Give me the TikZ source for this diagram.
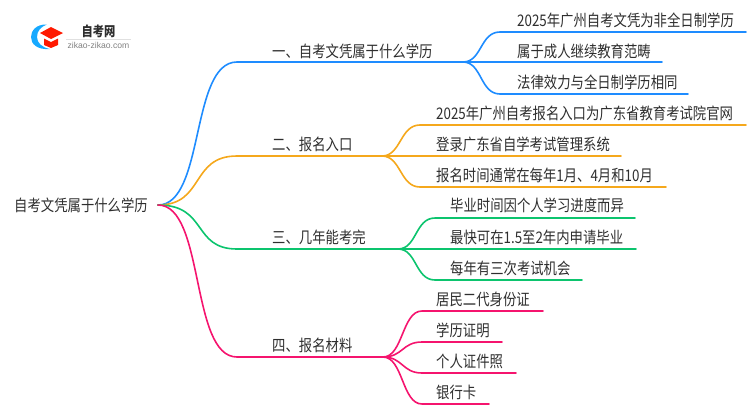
\documentclass[tikz,border=0pt]{standalone}
\usepackage{fontspec}
\setmainfont[FakeStretch=0.835]{Noto Sans CJK SC}
\newfontfamily\latinfont{Liberation Sans}
\definecolor{cblue}{HTML}{1E8CFF}
\definecolor{corange}{HTML}{F5A81C}
\definecolor{cgreen}{HTML}{0CC46E}
\definecolor{cpink}{HTML}{F5146E}
\definecolor{ctext}{HTML}{2E2E2E}
\tikzset{
  txt/.style={inner sep=0pt,anchor=west,text=ctext,font=\fontsize{16}{18}\selectfont},
  conn/.style={line width=1.6pt,line cap=round},
}
\begin{document}
\begin{tikzpicture}[x=1pt,y=-1pt]
\useasboundingbox (0,0) rectangle (750,410);
% logo
\fill[cblue!75!cyan] (47,24.5) .. controls (36,24) and (31,31) .. (31,37) .. controls (31,44) and (37,50) .. (50,49) .. controls (42,47.5) and (37,43) .. (37,37) .. controls (37,31) and (41,26.5) .. (47,24.5) -- cycle;
\fill[red!80!orange] (40,33) -- (51,27) -- (63,33) -- (51,39) -- cycle;
\fill[red!80!orange] (44,38.5) -- (51,42) -- (58,38.5) -- (58,45) -- (51,48) -- (44,45) -- cycle;
\node[inner sep=0pt,text=ctext,font=\fontsize{13.5}{15}\selectfont\bfseries] (logoa) at (98.5,31) {自考网};
\draw[black!12,line width=0.6pt] (66,39) -- (131,39);
\node[inner sep=0pt,text=gray,font=\latinfont\fontsize{8.6}{10}\selectfont] (logob) at (98.5,45) {zikao-zikao.com};
% text
\node[txt] (root) at (14,205) {自考文凭属于什么学历};
\node[txt] (a) at (272,51) {一、自考文凭属于什么学历};
\node[txt] (b) at (272,144) {二、报名入口};
\node[txt] (c) at (272,237) {三、几年能考完};
\node[txt] (d) at (272,345) {四、报名材料};
\node[txt] (a1) at (517,20) {2025年广州自考文凭为非全日制学历};
\node[txt] (a2) at (517,51.5) {属于成人继续教育范畴};
\node[txt] (a3) at (517,82) {法律效力与全日制学历相同};
\node[txt] (b1) at (436,113.5) {2025年广州自考报名入口为广东省教育考试院官网};
\node[txt] (b2) at (436,144) {登录广东省自学考试管理系统};
\node[txt] (b3) at (436,175) {报名时间通常在每年1月、4月和10月};
\node[txt] (c1) at (450,205.5) {毕业时间因个人学习进度而异};
\node[txt] (c2) at (450,237) {最快可在1.5至2年内申请毕业};
\node[txt] (c3) at (450,268) {每年有三次考试机会};
\node[txt] (d1) at (436,299.5) {居民二代身份证};
\node[txt] (d2) at (436,330) {学历证明};
\node[txt] (d3) at (436,361) {个人证件照};
\node[txt] (d4) at (436,392) {银行卡};
% connectors
\coordinate (o) at (158,205);
\coordinate (ja) at (463,62);
\coordinate (jb) at (382,156);
\coordinate (jc) at (398,249);
\coordinate (jd) at (383,357);
\draw[conn,cblue] (o) .. controls (205,205) and (190,62) .. (237,62) -- (ja);
\draw[conn,cblue] (ja) .. controls (482,62) and (480,32) .. (500,32) -- (746,32);
\draw[conn,cblue] (ja) -- (662,62);
\draw[conn,cblue] (ja) .. controls (482,62) and (480,94) .. (500,94) -- (688,94);
\draw[conn,corange] (o) .. controls (205,205) and (190,156) .. (237,156) -- (jb);
\draw[conn,corange] (jb) .. controls (401,156) and (400,125) .. (420,125) -- (746,125);
\draw[conn,corange] (jb) -- (621,156);
\draw[conn,corange] (jb) .. controls (401,156) and (400,187) .. (420,187) -- (666,187);
\draw[conn,cgreen] (o) .. controls (208,205) and (192,249) .. (237,249) -- (jc);
\draw[conn,cgreen] (jc) .. controls (417,249) and (415,218) .. (435,218) -- (635,218);
\draw[conn,cgreen] (jc) -- (636,249);
\draw[conn,cgreen] (jc) .. controls (417,249) and (415,280) .. (435,280) -- (582,280);
\draw[conn,cpink] (o) .. controls (205,205) and (190,357) .. (237,357) -- (jd);
\draw[conn,cpink] (jd) .. controls (403,357) and (402,311) .. (422,311) -- (543,311);
\draw[conn,cpink] (jd) .. controls (403,357) and (402,342) .. (422,342) -- (502,342);
\draw[conn,cpink] (jd) .. controls (403,357) and (402,373) .. (422,373) -- (516,373);
\draw[conn,cpink] (jd) .. controls (403,357) and (402,404) .. (422,404) -- (489,404);
\end{tikzpicture}
\end{document}
